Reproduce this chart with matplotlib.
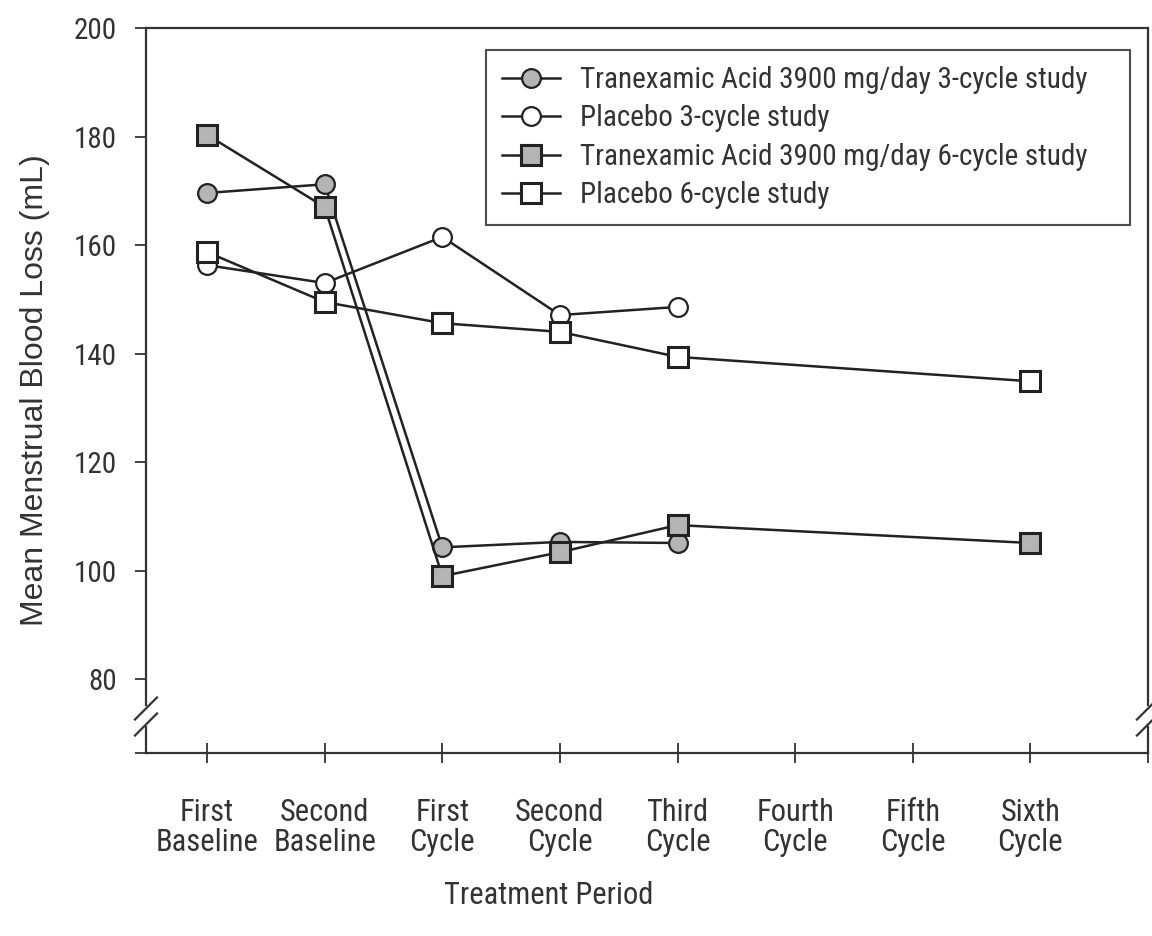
import numpy as np
import matplotlib.pyplot as plt

plt.rcParams['font.family'] = ['Roboto Condensed', 'Liberation Sans Narrow', 'Liberation Sans', 'DejaVu Sans']

periods = ["First\nBaseline", "Second\nBaseline", "First\nCycle", "Second\nCycle",
           "Third\nCycle", "Fourth\nCycle", "Fifth\nCycle", "Sixth\nCycle"]

# 3-cycle study: two baselines + cycles 1-3
pos_3cycle = [0, 1, 2, 3, 4]
txa_3cycle = [169.6, 171.2, 104.3, 105.3, 105.1]
pbo_3cycle = [156.3, 153.0, 161.5, 147.1, 148.6]

# 6-cycle study: two baselines + cycles 1-3 and 6
pos_6cycle = [0, 1, 2, 3, 4, 7]
txa_6cycle = [180.3, 167.0, 99.0, 103.4, 108.4, 105.1]
pbo_6cycle = [158.7, 149.5, 145.6, 144.0, 139.4, 134.9]

labels = ["Tranexamic Acid 3900 mg/day 3-cycle study",
          "Placebo 3-cycle study",
          "Tranexamic Acid 3900 mg/day 6-cycle study",
          "Placebo 6-cycle study"]

ink = '#222222'
txt = '#333333'
grey = '#b4b4b4'
ymin, ymax = 66.4, 200

fig = plt.figure(figsize=(11.52, 9.36), dpi=100)
ax = fig.add_axes([0.1267, 0.1955, 0.8698, 0.7746])

l1, = ax.plot(pos_3cycle, txa_3cycle, '-o', color=ink, lw=1.8, ms=13.5,
              mfc=grey, mec=ink, mew=1.6, label=labels[0])
l2, = ax.plot(pos_3cycle, pbo_3cycle, '-o', color=ink, lw=1.8, ms=13.5,
              mfc='white', mec=ink, mew=1.6, label=labels[1])
l3, = ax.plot(pos_6cycle, txa_6cycle, '-s', color=ink, lw=1.8, ms=14.5,
              mfc=grey, mec=ink, mew=2.2, label=labels[2])
l4, = ax.plot(pos_6cycle, pbo_6cycle, '-s', color=ink, lw=1.8, ms=14.5,
              mfc='white', mec=ink, mew=2.2, label=labels[3])

ax.set_xlim(-0.52, 8)
ax.set_ylim(ymin, ymax)

ax.set_xticks(range(9))
ax.set_xticklabels(periods + [""], fontsize=22, color=txt, linespacing=1.05)
ax.set_yticks([ymin, 80, 100, 120, 140, 160, 180, 200])
ax.set_yticklabels(["", "80", "100", "120", "140", "160", "180", "200"],
                   fontsize=21, color=txt)
ax.tick_params(axis='x', direction='inout', length=15, width=1.3, color=txt, pad=25)
ax.tick_params(axis='y', direction='out', length=8, width=1.3, color=txt, pad=13)

for s in ['top', 'bottom']:
    ax.spines[s].set_linewidth(1.6)
    ax.spines[s].set_color(txt)
ax.spines['left'].set_visible(False)
ax.spines['right'].set_visible(False)

# left / right spines with axis-break marks
gap_hi, gap_lo = 0.066, 0.036
dx, dy = 0.011, 0.0152
for xs in [0, 1]:
    ax.plot([xs, xs], [gap_hi, 1], transform=ax.transAxes, color=txt, lw=1.6, clip_on=False)
    ax.plot([xs, xs], [0, gap_lo], transform=ax.transAxes, color=txt, lw=1.6, clip_on=False)
    for yc in [0.0614, 0.0393]:
        ax.plot([xs - dx, xs + dx], [yc - dy, yc + dy], transform=ax.transAxes,
                color=txt, lw=1.6, clip_on=False)

ax.set_ylabel("Mean Menstrual Blood Loss (mL)", fontsize=23, color=txt, labelpad=17,
              family=['Liberation Sans', 'DejaVu Sans'])
fig.text(0.476, 0.043, "Treatment Period", fontsize=22, color=txt, ha='center', va='center')

leg = ax.legend(handles=[l1, l2, l3, l4], loc='upper left',
                bbox_to_anchor=(0.339, 0.732, 0.643, 0.238), mode='expand',
                fontsize=21, frameon=True, fancybox=False, handlelength=2.0,
                handletextpad=0.7, labelspacing=0.36, borderpad=0.55, borderaxespad=0)
leg.get_frame().set_edgecolor(ink)
leg.get_frame().set_linewidth(1.5)
for t in leg.get_texts():
    t.set_color(txt)

fig.savefig("out.png", dpi=100)
